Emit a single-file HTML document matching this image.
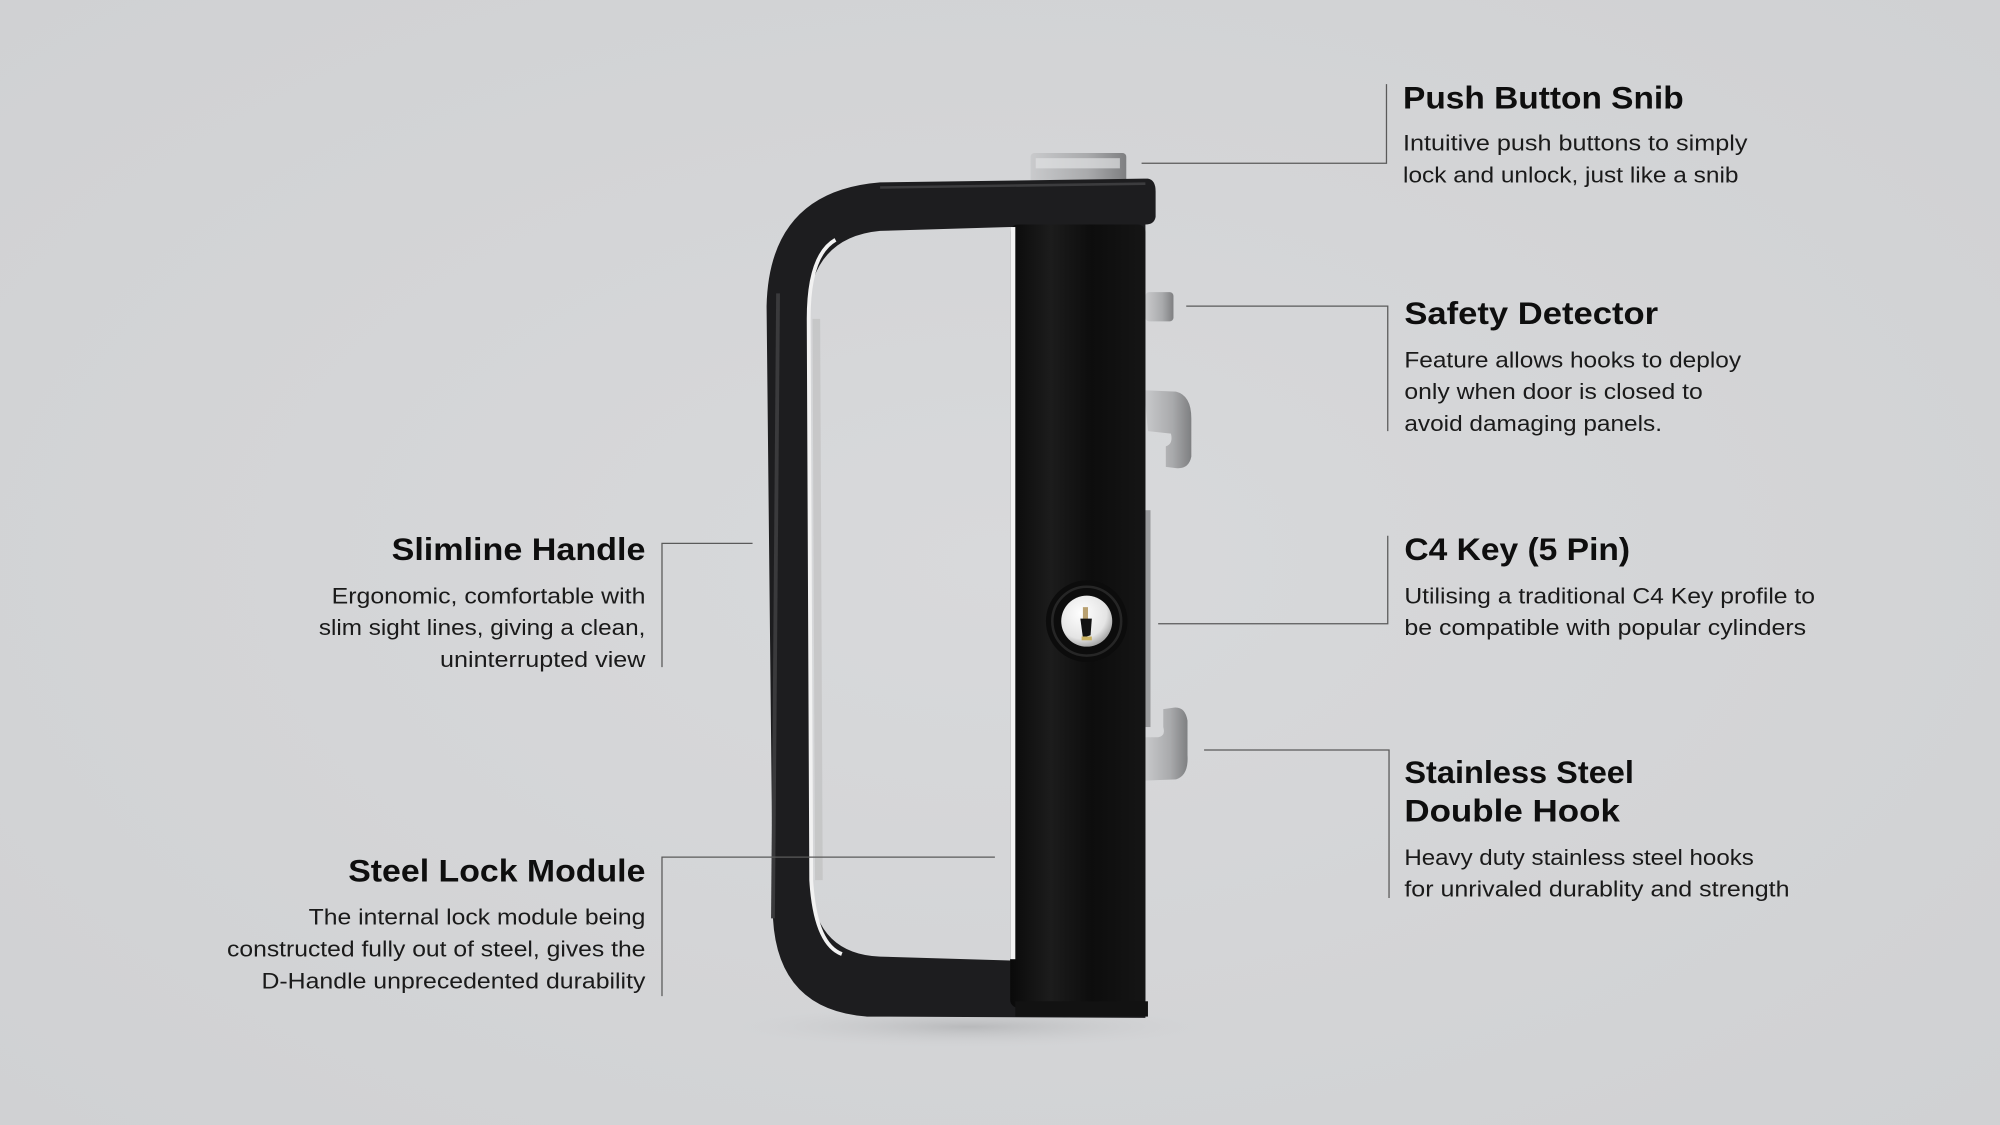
<!DOCTYPE html>
<html><head><meta charset="utf-8">
<style>
html,body{margin:0;padding:0;background:#d3d4d6;}
svg{display:block;}
.t{font-family:"Liberation Sans",sans-serif;font-weight:bold;font-size:25px;fill:#0e0e0e;}
.b{font-family:"Liberation Sans",sans-serif;font-size:17.5px;fill:#1a1a1a;}
.l{stroke:#5a5a5a;stroke-width:1;fill:none;}
</style></head>
<body>
<svg width="2000" height="1125" viewBox="0 0 1568 882" xmlns="http://www.w3.org/2000/svg">
<defs>
<radialGradient id="bg" cx="0.5" cy="0.5" r="0.7">
<stop offset="0" stop-color="#d8d9db"/><stop offset="1" stop-color="#d0d1d3"/>
</radialGradient>
<linearGradient id="body" x1="0" x2="1" y1="0" y2="0">
<stop offset="0" stop-color="#0a0a0a"/><stop offset="0.3" stop-color="#1c1c1c"/><stop offset="0.6" stop-color="#0d0d0d"/><stop offset="1" stop-color="#151515"/>
</linearGradient>
<linearGradient id="met" x1="0" x2="1" y1="0" y2="0">
<stop offset="0" stop-color="#c9cacc"/><stop offset="0.6" stop-color="#a9aaac"/><stop offset="1" stop-color="#7e7f81"/>
</linearGradient>
<radialGradient id="chrome" cx="0.4" cy="0.35" r="0.7">
<stop offset="0" stop-color="#ffffff"/><stop offset="0.7" stop-color="#e4e4e4"/><stop offset="1" stop-color="#9a9a9a"/>
</radialGradient>
<radialGradient id="sh" cx="0.5" cy="0.5" r="0.5">
<stop offset="0" stop-color="#b8b9bb"/><stop offset="1" stop-color="#d3d4d6" stop-opacity="0"/>
</radialGradient>
</defs>
<rect width="1568" height="882" fill="url(#bg)"/>
<ellipse cx="760" cy="805" rx="200" ry="18" fill="url(#sh)"/>

<!-- snib -->
<rect x="808" y="120" width="75" height="26" rx="3" fill="url(#met)"/>
<rect x="812" y="124" width="66" height="8" fill="#e0e1e3" opacity="0.7"/>
<!-- safety detector -->
<rect x="898" y="229" width="22" height="23" rx="3" fill="url(#met)"/>
<!-- hook 1 -->
<path d="M897,306 L922,307 Q934,310 934,328 L934,358 Q932,368 922,367 L914,366 L914,350 Q920,348 918,340 L900,338 Z" fill="url(#met)"/>
<!-- hook 2 -->
<path d="M897,612 L922,611 Q932,608 931,592 L931,565 Q929,553 919,555 L912,556 L912,570 Q914,577 908,578 L897,578 Z" fill="url(#met)"/>
<rect x="896" y="400" width="6" height="170" fill="#9b9c9e"/>

<!-- D handle -->
<path fill-rule="evenodd" fill="#1d1d1f" d="M900,140 Q906,141 906,150 L906,170 Q905,176 898,176 L898,798 L680,797 Q610,792 606,720 L601,240 Q603,150 690,143 Z
M792,178 L690,181 Q636,186 633,245 L635,690 Q638,748 690,750 L792,753 Z"/>
<!-- chrome inner edge -->
<path d="M655,188 Q634,200 634,250 L636,690 Q639,740 660,748" stroke="#f2f2f2" stroke-width="3" fill="none"/>
<path d="M640,250 L642,690" stroke="#bcbcbc" stroke-width="6" fill="none" opacity="0.6"/>
<path d="M610,230 L606,720" stroke="#3a3a3c" stroke-width="3" fill="none"/>
<path d="M690,147 L898,144" stroke="#3c3c3e" stroke-width="2"/>
<!-- body column -->
<rect x="792" y="176" width="106" height="614" rx="6" fill="url(#body)"/>
<rect x="792" y="178" width="4" height="574" fill="#f3f3f3"/>
<rect x="796" y="785" width="104" height="12" fill="#121212"/>
<!-- lock -->
<circle cx="852" cy="487" r="32" fill="#0c0c0c"/>
<circle cx="852" cy="487" r="27" fill="none" stroke="#262626" stroke-width="2"/>
<circle cx="852" cy="487" r="20" fill="url(#chrome)"/>
<rect x="849" y="476" width="4" height="10" fill="#b8a070"/>
<path d="M847,485 L856,485 L855,498 L849,500 Z" fill="#111"/>
<rect x="848" y="499" width="8" height="3" fill="#c8b060"/>

<!-- connectors -->
<path class="l" d="M895,128 H1087 V66"/>
<path class="l" d="M930,240 H1088 V338"/>
<path class="l" d="M908,489 H1088 V420"/>
<path class="l" d="M944,588 H1089 V704"/>
<path class="l" d="M590,426 H519 V523"/>
<path class="l" d="M780,672 H519 V781"/>

<!-- right labels -->
<text class="t" x="1100" y="85" textLength="220" lengthAdjust="spacingAndGlyphs">Push Button Snib</text>
<text class="b" x="1100" y="118" textLength="270" lengthAdjust="spacingAndGlyphs">Intuitive push buttons to simply</text>
<text class="b" x="1100" y="143" textLength="263" lengthAdjust="spacingAndGlyphs">lock and unlock, just like a snib</text>

<text class="t" x="1101" y="254" textLength="199" lengthAdjust="spacingAndGlyphs">Safety Detector</text>
<text class="b" x="1101" y="288" textLength="264" lengthAdjust="spacingAndGlyphs">Feature allows hooks to deploy</text>
<text class="b" x="1101" y="313" textLength="234" lengthAdjust="spacingAndGlyphs">only when door is closed to</text>
<text class="b" x="1101" y="338" textLength="202" lengthAdjust="spacingAndGlyphs">avoid damaging panels.</text>

<text class="t" x="1101" y="439" textLength="177" lengthAdjust="spacingAndGlyphs">C4 Key (5 Pin)</text>
<text class="b" x="1101" y="473" textLength="322" lengthAdjust="spacingAndGlyphs">Utilising a traditional C4 Key profile to</text>
<text class="b" x="1101" y="498" textLength="315" lengthAdjust="spacingAndGlyphs">be compatible with popular cylinders</text>

<text class="t" x="1101" y="614" textLength="180" lengthAdjust="spacingAndGlyphs">Stainless Steel</text>
<text class="t" x="1101" y="644" textLength="169" lengthAdjust="spacingAndGlyphs">Double Hook</text>
<text class="b" x="1101" y="678" textLength="274" lengthAdjust="spacingAndGlyphs">Heavy duty stainless steel hooks</text>
<text class="b" x="1101" y="703" textLength="302" lengthAdjust="spacingAndGlyphs">for unrivaled durablity and strength</text>

<!-- left labels -->
<text class="t" x="506" y="439" text-anchor="end" textLength="199" lengthAdjust="spacingAndGlyphs">Slimline Handle</text>
<text class="b" x="506" y="473" text-anchor="end" textLength="246" lengthAdjust="spacingAndGlyphs">Ergonomic, comfortable with</text>
<text class="b" x="506" y="498" text-anchor="end" textLength="256" lengthAdjust="spacingAndGlyphs">slim sight lines, giving a clean,</text>
<text class="b" x="506" y="523" text-anchor="end" textLength="161" lengthAdjust="spacingAndGlyphs">uninterrupted view</text>

<text class="t" x="506" y="691" text-anchor="end" textLength="233" lengthAdjust="spacingAndGlyphs">Steel Lock Module</text>
<text class="b" x="506" y="725" text-anchor="end" textLength="264" lengthAdjust="spacingAndGlyphs">The internal lock module being</text>
<text class="b" x="506" y="750" text-anchor="end" textLength="328" lengthAdjust="spacingAndGlyphs">constructed fully out of steel, gives the</text>
<text class="b" x="506" y="775" text-anchor="end" textLength="301" lengthAdjust="spacingAndGlyphs">D-Handle unprecedented durability</text>
</svg>
</body></html>
